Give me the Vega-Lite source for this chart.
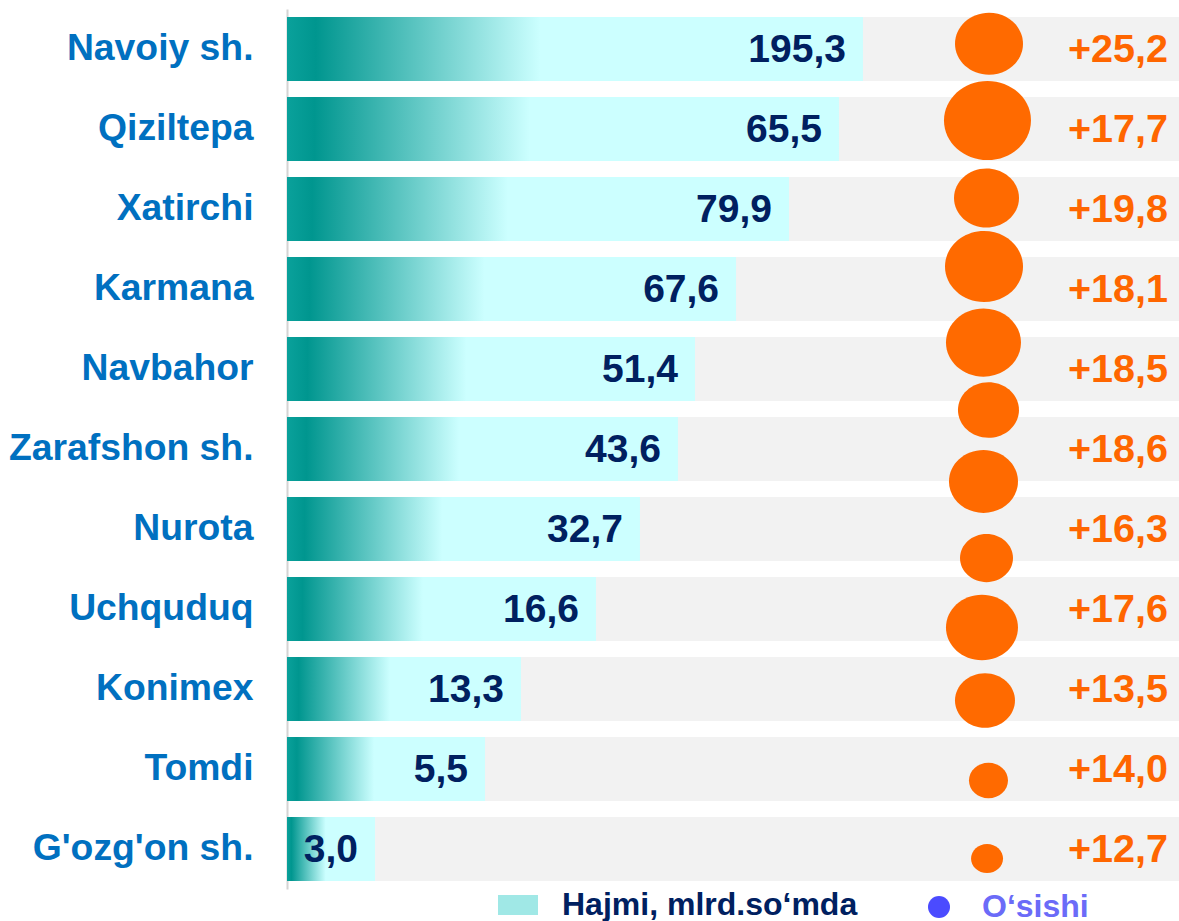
{
  "$schema": "https://vega.github.io/schema/vega-lite/v6.json",
  "autosize": {"type": "none"},
  "width": 892,
  "height": 880,
  "padding": {"left": 287, "top": 9, "right": 0, "bottom": 32},
  "background": "white",
  "config": {
    "view": {"stroke": null},
    "font": "Liberation Sans"
  },
  "datasets": {
    "rows": [
      {"name": "Navoiy sh.", "len": 64.57, "label": "195,3", "growth": "+25,2"},
      {"name": "Qiziltepa", "len": 61.88, "label": "65,5", "growth": "+17,7"},
      {"name": "Xatirchi", "len": 56.28, "label": "79,9", "growth": "+19,8"},
      {"name": "Karmana", "len": 50.34, "label": "67,6", "growth": "+18,1"},
      {"name": "Navbahor", "len": 45.74, "label": "51,4", "growth": "+18,5"},
      {"name": "Zarafshon sh.", "len": 43.83, "label": "43,6", "growth": "+18,6"},
      {"name": "Nurota", "len": 39.57, "label": "32,7", "growth": "+16,3"},
      {"name": "Uchquduq", "len": 34.64, "label": "16,6", "growth": "+17,6"},
      {"name": "Konimex", "len": 26.23, "label": "13,3", "growth": "+13,5"},
      {"name": "Tomdi", "len": 22.2, "label": "5,5", "growth": "+14,0"},
      {"name": "G'ozg'on sh.", "len": 9.87, "label": "3,0", "growth": "+12,7"}
    ],
    "bubbles": [
      {"cx": 78.7, "cy": 0.434, "area": 46.24},
      {"cx": 78.53, "cy": 1.394, "area": 75.69},
      {"cx": 78.42, "cy": 2.363, "area": 42.25},
      {"cx": 78.14, "cy": 3.219, "area": 60.84},
      {"cx": 78.08, "cy": 4.169, "area": 56.25},
      {"cx": 78.64, "cy": 5.013, "area": 37.21},
      {"cx": 78.08, "cy": 5.906, "area": 47.61},
      {"cx": 78.42, "cy": 6.863, "area": 28.09},
      {"cx": 77.91, "cy": 7.731, "area": 51.84},
      {"cx": 78.25, "cy": 8.644, "area": 36.0},
      {"cx": 78.64, "cy": 9.644, "area": 15.21},
      {"cx": 78.48, "cy": 10.619, "area": 10.24}
    ]
  },
  "layer": [
    {
      "data": {"name": "rows"},
      "layer": [
        {
          "mark": {"type": "bar", "color": "#F2F2F2"},
          "encoding": {
            "y": {
              "field": "name", "type": "nominal", "sort": null,
              "scale": {"paddingInner": 0.2, "paddingOuter": 0.1},
              "axis": {
                "title": null, "ticks": false, "domain": true,
                "domainColor": "#D4D4D4", "domainWidth": 2,
                "labelFont": "Liberation Sans", "labelFontSize": 37.3,
                "labelFontWeight": "bold", "labelColor": "#0070C0",
                "labelPadding": 34, "labelLimit": 400
              }
            },
            "x": {"datum": 100, "type": "quantitative", "scale": {"domain": [0, 100], "nice": false}, "axis": null}
          }
        },
        {
          "mark": {
            "type": "bar",
            "fill": {
              "gradient": "linear", "x1": 0, "y1": 0, "x2": 1, "y2": 0,
              "stops": [
                {"offset": 0, "color": "#0AA19B"},
                {"offset": 0.05, "color": "#00968F"},
                {"offset": 0.44, "color": "#CCFFFF"},
                {"offset": 1, "color": "#CCFFFF"}
              ]
            }
          },
          "encoding": {
            "y": {"field": "name", "type": "nominal", "sort": null},
            "x": {"field": "len", "type": "quantitative"}
          }
        },
        {
          "mark": {"type": "text", "align": "right", "baseline": "middle", "dx": -17, "dy": 1, "font": "Liberation Sans", "fontSize": 39, "fontWeight": "bold", "color": "#002060"},
          "encoding": {
            "y": {"field": "name", "type": "nominal", "sort": null},
            "x": {"field": "len", "type": "quantitative"},
            "text": {"field": "label"}
          }
        },
        {
          "mark": {"type": "text", "align": "right", "baseline": "middle", "dx": -11, "dy": 1, "font": "Liberation Sans", "fontSize": 39.5, "fontWeight": "bold", "color": "#FF6600"},
          "encoding": {
            "y": {"field": "name", "type": "nominal", "sort": null},
            "x": {"datum": 100, "type": "quantitative"},
            "text": {"field": "growth"}
          }
        }
      ]
    },
    {
      "data": {"name": "bubbles"},
      "mark": {"type": "point", "filled": true, "opacity": 1, "color": "#FF6A00", "shape": "M-1,0A1,0.91,0,1,1,1,0A1,0.91,0,1,1,-1,0Z"},
      "encoding": {
        "x": {"field": "cx", "type": "quantitative"},
        "y": {"field": "cy", "type": "quantitative", "scale": {"domain": [0, 11], "reverse": true, "nice": false, "zero": false}, "axis": null},
        "size": {"field": "area", "type": "quantitative", "scale": {"type": "linear", "domain": [0, 100], "range": [0, 10000], "zero": true}, "legend": null}
      }
    },
    {
      "data": {"values": []},
      "mark": {"type": "point", "filled": true, "opacity": 1},
      "encoding": {
        "fill": {
          "field": "series", "type": "nominal",
          "scale": {"domain": ["Hajmi, mlrd.so‘mda"], "range": ["#A0E8E6"]},
          "legend": {
            "orient": "none", "legendX": 211, "legendY": 876, "title": null, "padding": 0,
            "symbolType": "M-1,-0.5H1V0.5H-1Z", "symbolSize": 1600, "symbolStrokeWidth": 0, "symbolOpacity": 1,
            "labelFont": "Liberation Sans", "labelFontSize": 32, "labelFontWeight": "bold",
            "labelColor": "#002060", "labelOffset": 24, "labelLimit": 500
          }
        }
      }
    },
    {
      "data": {"values": []},
      "mark": {"type": "point", "filled": true, "opacity": 1, "color": "#4B4BFF"},
      "encoding": {
        "shape": {
          "field": "series2", "type": "nominal",
          "scale": {"domain": ["O‘sishi"], "range": ["circle"]},
          "legend": {
            "orient": "none", "legendX": 636, "legendY": 882, "title": null, "padding": 0,
            "symbolSize": 484, "symbolFillColor": "#4B4BFF", "symbolStrokeWidth": 0, "symbolOpacity": 1,
            "labelFont": "Liberation Sans", "labelFontSize": 32, "labelFontWeight": "bold",
            "labelColor": "#6B6BF8", "labelOffset": 27, "labelLimit": 500
          }
        }
      }
    }
  ],
  "resolve": {"scale": {"y": "independent"}}
}
